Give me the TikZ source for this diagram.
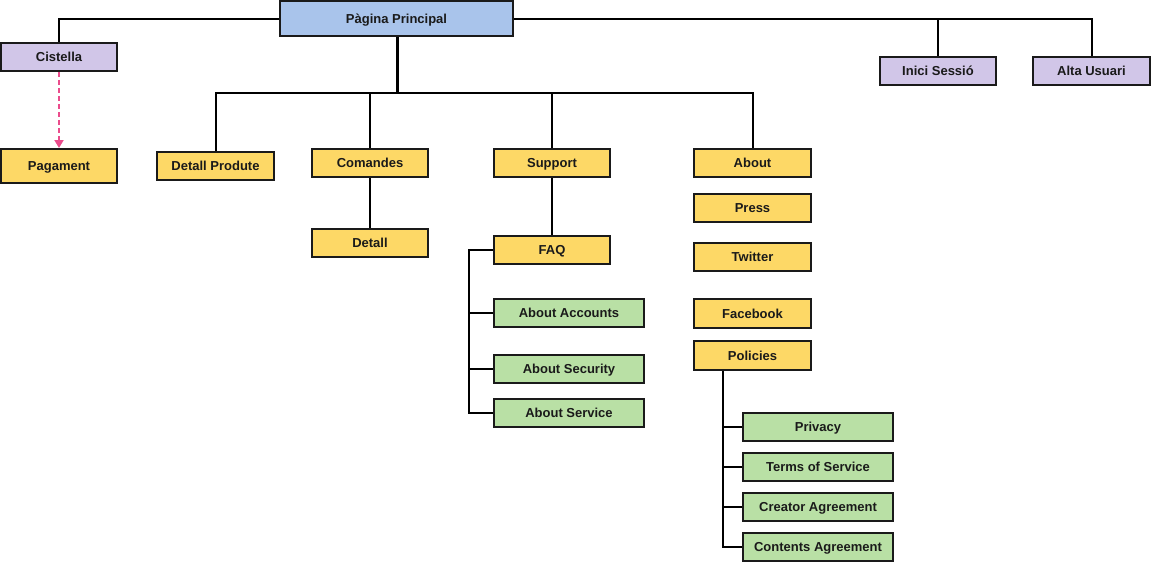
\documentclass[tikz,border=0pt]{standalone}
\usepackage{fontspec}
\setmainfont{Liberation Sans}
\usetikzlibrary{arrows.meta}
\definecolor{bluef}{HTML}{A9C4EB}
\definecolor{purpf}{HTML}{D1C6E8}
\definecolor{yellf}{HTML}{FDD866}
\definecolor{greenf}{HTML}{B9E0A5}
\definecolor{pinkl}{HTML}{EB4C8C}
\definecolor{inkc}{HTML}{1A1A1A}
\tikzset{
  box/.style={draw=inkc, line width=2pt, inner sep=0pt, text=inkc,
    font=\fontsize{13}{15}\selectfont\bfseries, minimum height=28pt,
    text height=9.4pt, text depth=0pt},
  bluebox/.style={box, fill=bluef},
  purpbox/.style={box, fill=purpf},
  yellbox/.style={box, fill=yellf},
  greenbox/.style={box, fill=greenf},
  conn/.style={draw=black, line width=2pt},
  trunk/.style={draw=black, line width=3pt},
  dasharrow/.style={draw=pinkl, line width=1.8pt, dash pattern=on 5pt off 3pt, -{Triangle[length=8pt,width=9pt]}}
}
\begin{document}
\begin{tikzpicture}[x=1pt,y=-1pt]
\useasboundingbox (0,0) rectangle (1151,562);
% nodes
\node[bluebox, minimum width=233pt, minimum height=35pt] (main) at (396.5,18.5) {Pàgina Principal};
\node[purpbox, minimum width=116pt] (cist) at (59,57) {Cistella};
\node[yellbox, minimum width=116pt, minimum height=34pt] (pag) at (59,166) {Pagament};
\node[yellbox, minimum width=117pt] (dp) at (215.5,166) {Detall Produte};
\node[yellbox, minimum width=116pt] (com) at (370,163) {Comandes};
\node[yellbox, minimum width=116pt] (sup) at (552,163) {Support};
\node[yellbox, minimum width=117pt] (abt) at (752.5,163) {About};
\node[purpbox, minimum width=116pt] (ini) at (938,71) {Inici Sessió};
\node[purpbox, minimum width=117pt] (alta) at (1091.5,71) {Alta Usuari};
\node[yellbox, minimum width=116pt] (det) at (370,243) {Detall};
\node[yellbox, minimum width=116pt] (faq) at (552,250) {FAQ};
\node[greenbox, minimum width=150pt] (acc) at (569,313) {About Accounts};
\node[greenbox, minimum width=150pt] (sec) at (569,369) {About Security};
\node[greenbox, minimum width=150pt] (ser) at (569,413) {About Service};
\node[yellbox, minimum width=117pt] (press) at (752.5,208) {Press};
\node[yellbox, minimum width=117pt] (tw) at (752.5,257) {Twitter};
\node[yellbox, minimum width=117pt, minimum height=29pt] (fb) at (752.5,313.5) {Facebook};
\node[yellbox, minimum width=117pt, minimum height=29pt] (pol) at (752.5,355.5) {Policies};
\node[greenbox, minimum width=150pt] (priv) at (818,427) {Privacy};
\node[greenbox, minimum width=150pt] (tos) at (818,467) {Terms of Service};
\node[greenbox, minimum width=150pt] (cre) at (818,507) {Creator Agreement};
\node[greenbox, minimum width=150pt] (con) at (818,547) {Contents Agreement};
% helper coordinates
\coordinate (hub) at (397,93);
\coordinate (fx) at (469,0);
\coordinate (px) at (723,0);
% connectors
\draw[conn] (main.west) -| (cist.north);
\draw[conn] (main.east) -| (alta.north);
\draw[conn] (ini.north) -- (ini.north |- main.east);
\draw[trunk] (main.south -| hub) -- (hub);
\draw[conn] (dp.north) |- (abt.north |- hub) -- (abt.north);
\draw[conn] (com.north) -- (com.north |- hub);
\draw[conn] (sup.north) -- (sup.north |- hub);
\draw[conn] (com.south) -- (det.north);
\draw[conn] (sup.south) -- (faq.north);
\draw[conn] (faq.west) -| (fx |- ser.west) -- (ser.west);
\draw[conn] (acc.west) -- (acc.west -| fx);
\draw[conn] (sec.west) -- (sec.west -| fx);
\draw[conn] (px |- pol.south) |- (con.west);
\draw[conn] (priv.west) -- (priv.west -| px);
\draw[conn] (tos.west) -- (tos.west -| px);
\draw[conn] (cre.west) -- (cre.west -| px);
\draw[dasharrow] (cist.south) -- (pag.north);
\end{tikzpicture}
\end{document}
